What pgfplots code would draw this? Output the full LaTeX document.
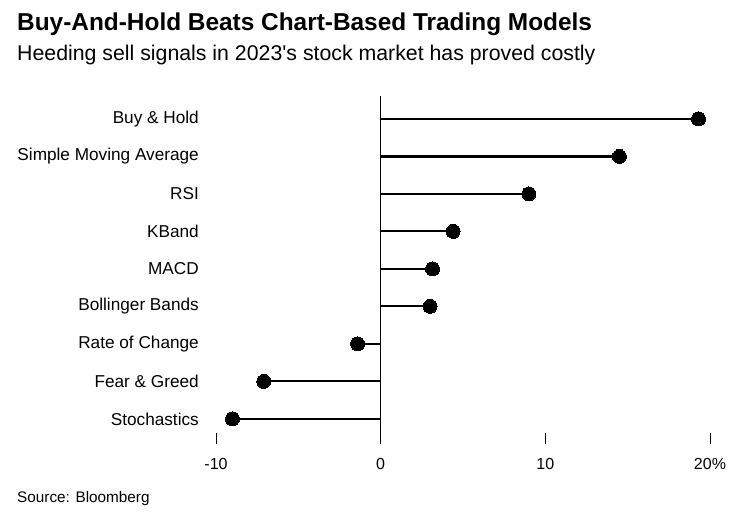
\documentclass[border=0pt]{standalone}
\usepackage{pgfplots}
\pgfplotsset{compat=1.18}
\usepackage{fontspec}
\setmainfont{Liberation Sans}
\begin{document}
\begin{tikzpicture}[x=1pt,y=1pt]
\path[use as bounding box] (0,0) rectangle (744,517);
\node[anchor=base west, inner sep=0pt, font=\bfseries\fontsize{24.4}{30}\selectfont] at (17,486) {Buy-And-Hold Beats Chart-Based Trading Models};
\node[anchor=base west, inner sep=0pt, font=\fontsize{21.3}{25}\selectfont] at (17,456) {Heeding sell signals in 2023\textquotesingle s stock market has proved costly};
\node[anchor=base west, inner sep=0pt, font=\fontsize{15.3}{18}\selectfont] at (17,15) {Source: Bloomberg};
\begin{axis}[
  at={(216pt,73pt)}, anchor=south west,
  scale only axis, width=494pt, height=347.6pt,
  xmin=-10, xmax=20, ymin=-0.6, ymax=8.67, y dir=reverse,
  clip=false,
  axis line style={draw=none},
  xtick={-10,0,10,20}, xticklabels={-10,0,10,20\%},
  xtick pos=lower, tick align=inside,
  x tick style={black, line width=0.8pt}, major tick length=11pt,
  ytick={0,...,8},
  yticklabels={Buy \& Hold,Simple Moving Average,RSI,KBand,MACD,Bollinger Bands,Rate of Change,Fear \& Greed,Stochastics},
  ytick pos=left, y tick style={draw=none},
  yticklabel style={font=\fontsize{17.2}{20}\selectfont, anchor=east, inner sep=0pt, xshift=-17pt},
  xticklabel style={font=\fontsize{16}{19}\selectfont, anchor=base, inner sep=0pt, yshift=-25pt},
  /pgf/number format/assume math mode=true,
]
\addplot[black, line width=0.8pt] coordinates {(0,-0.6) (0,8.67)};
\addplot[xcomb, black, line width=2.2pt, mark=*, mark size=7pt, mark options={fill=black, line width=0pt}] coordinates {
(19.3,0) (14.5,1) (9.0,2) (4.4,3) (3.15,4) (3.0,5) (-1.4,6) (-7.1,7) (-9.0,8)};
\end{axis}
\end{tikzpicture}
\end{document}
